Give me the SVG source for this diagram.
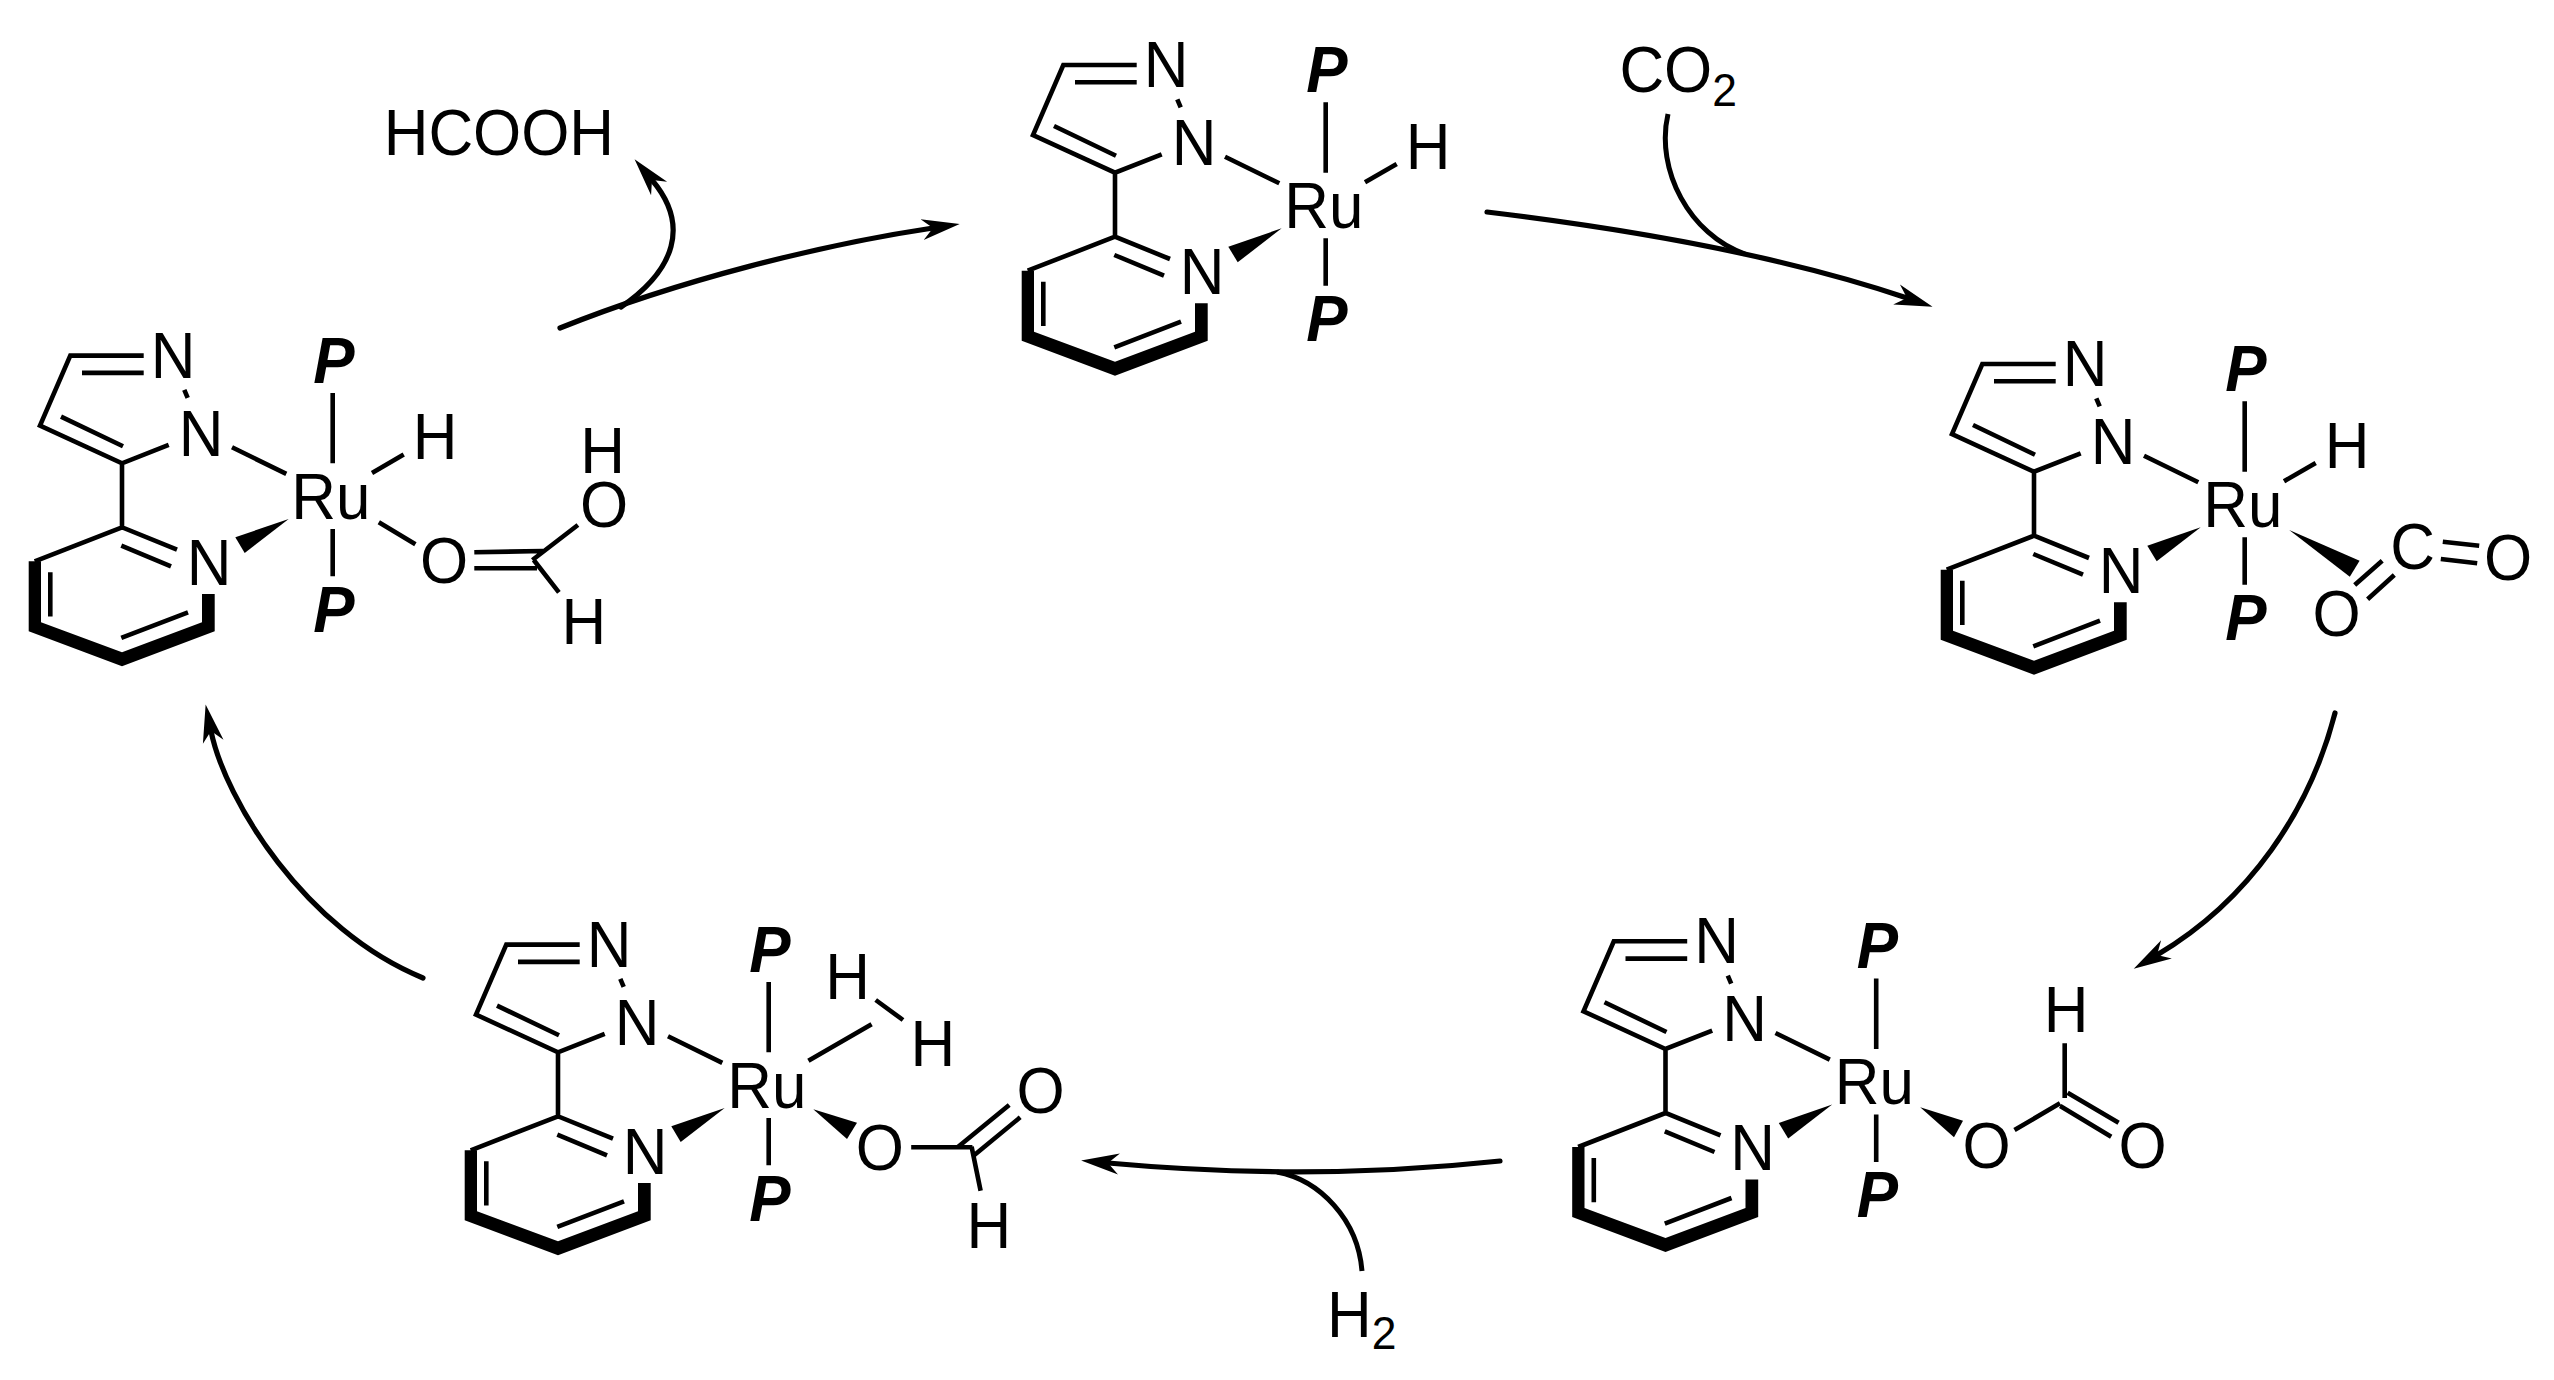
<svg xmlns="http://www.w3.org/2000/svg" width="2554" height="1380" viewBox="0 0 2554 1380">
<style>
text{font-family:"Liberation Sans",Arial,sans-serif;font-size:65.5px;fill:#000;transform-box:fill-box;transform-origin:center;transform:scaleX(.945)}
.m{text-anchor:middle}
.p{font-weight:bold;font-style:italic}
.sub{font-size:47px}
.b{fill:none;stroke:#000;stroke-width:4.6}
.f{fill:#000;stroke:none}
.a{fill:none;stroke:#000;stroke-width:5.2;stroke-linecap:round;marker-end:url(#head)}
.c{fill:none;stroke:#000;stroke-width:5;stroke-linecap:butt}
</style>
<defs>
<marker id="head" markerUnits="userSpaceOnUse" markerWidth="42" markerHeight="24" refX="11" refY="12" orient="auto">
<path d="M0,1.5L38,12L0,22.5L11,12Z" fill="#000"/>
</marker>
<g id="ligand">
<path class="b" d="M21.7,-107.7H-51.7L-82,-37.7L0,0L46.7,-18.4M-40,-90.4H21.7M-61,-46.7L1,-17M62.3,-73.4L65.7,-65.4M0,0V64L55,86.3M-0.7,82.3L49,103M0,64L-87.3,98M-71.7,109V153.3M-0.7,174.6L66,149M110,-16L164.3,10.6M210.7,-70.4V0M210.7,65.6V113"/>
<polygon class="f" points="-93.3,98 -81,98 -81,159 0,189 80,159 80,130.6 92.7,130.6 92.7,168 0,203 -93.3,168"/>
<polygon class="f" points="166.7,55.6 113.3,74 122.7,89.6"/>
</g>
</defs>

<g id="connectors">
<path class="a" d="M560,328C680,280 820,245 933,228"/>
<path class="a" d="M621,307C675,270 690,225 652,180"/>
<path class="a" d="M1487,212C1620,228 1780,255 1907,298"/>
<path class="c" d="M1668,114C1655,170 1690,235 1745,254"/>
<path class="a" d="M2335,713C2310,810 2250,900 2157,955"/>
<path class="a" d="M1500,1161C1380,1174 1250,1176 1108,1163"/>
<path class="c" d="M1362,1271C1358,1220 1320,1180 1277,1172"/>
<path class="a" d="M423,978C305,930 225,800 211,731"/>
</g>

<g id="label-hcooh"><text x="377" y="155">HCOOH</text></g>
<g id="label-co2"><text x="1616" y="91.7">CO<tspan class="sub" dy="14">2</tspan></text></g>
<g id="label-h2"><text x="1325" y="1336.7">H<tspan class="sub" dy="12.5">2</tspan></text></g>

<g id="complex-top"><g transform="translate(1115,172.7)">
<use href="#ligand"/>
<path class="b" d="M250,9.6L281.7,-8.7"/>
<text class="m" x="51" y="-85.7">N</text><text class="m" x="79" y="-7.7">N</text><text class="m" x="87" y="121.3">N</text>
<text x="167" y="55.3">Ru</text><text class="p" x="190" y="-80.7">P</text><text class="p" x="190" y="168.3">P</text><text class="m" x="313" y="-4">H</text>
</g></g>

<g id="complex-left"><g transform="translate(122,463.3)">
<use href="#ligand"/>
<path class="b" d="M250,9.6L281.7,-8.7"/>
<text class="m" x="51" y="-85.7">N</text><text class="m" x="79" y="-7.7">N</text><text class="m" x="87" y="121.3">N</text>
<text x="167" y="55.3">Ru</text><text class="p" x="190" y="-80.7">P</text><text class="p" x="190" y="168.3">P</text><text class="m" x="313" y="-4">H</text>
</g>
<path class="b" d="M378.8,522.3L415.4,544.3M474.3,552.3L543,551M474.3,568.3H537M532.4,560L577.9,525M533.7,560L558.9,592.3"/>
<text class="m" x="444" y="583">O</text><text class="m" x="604" y="526.7">O</text><text class="m" x="602.7" y="473.3">H</text><text class="m" x="583.8" y="644.3">H</text>
</g>

<g id="complex-right"><g transform="translate(2034,471.7)">
<use href="#ligand"/>
<path class="b" d="M250,9.6L281.7,-8.7"/>
<text class="m" x="51" y="-85.7">N</text><text class="m" x="79" y="-7.7">N</text><text class="m" x="87" y="121.3">N</text>
<text x="167" y="55.3">Ru</text><text class="p" x="190" y="-80.7">P</text><text class="p" x="190" y="168.3">P</text><text class="m" x="313" y="-4">H</text>
</g>
<polygon class="f" points="2289.2,530 2359.6,560.7 2349.8,576.7"/>
<path class="b" d="M2442.8,541.7L2479.2,545.7M2440.8,559L2477.2,563.3M2382.2,560.7L2354.7,585M2394.3,575L2367.6,599.3"/>
<text class="m" x="2412.5" y="569.3">C</text><text class="m" x="2508" y="580">O</text><text class="m" x="2336.5" y="636.3">O</text>
</g>

<g id="complex-bottom-right"><g transform="translate(1665.5,1049)">
<use href="#ligand"/>
<text class="m" x="51" y="-85.7">N</text><text class="m" x="79" y="-7.7">N</text><text class="m" x="87" y="121.3">N</text>
<text x="167" y="55.3">Ru</text><text class="p" x="190" y="-80.7">P</text><text class="p" x="190" y="168.3">P</text>
</g>
<polygon class="f" points="1920.2,1107.3 1963,1120.7 1954,1137.3"/>
<path class="b" d="M2014.5,1130L2060,1103.3M2064.7,1043.3V1098M2067.6,1092.7L2118.6,1122.7M2060.2,1106L2111.2,1136.7"/>
<text class="m" x="1986.7" y="1168.3">O</text><text class="m" x="2066" y="1032.3">H</text><text class="m" x="2142.7" y="1168.3">O</text>
</g>

<g id="complex-bottom-left"><g transform="translate(558,1052.3)">
<use href="#ligand"/>
<text class="m" x="51" y="-85.7">N</text><text class="m" x="79" y="-7.7">N</text><text class="m" x="87" y="121.3">N</text>
<text x="167" y="55.3">Ru</text><text class="p" x="190" y="-80.7">P</text><text class="p" x="190" y="168.3">P</text>
</g>
<polygon class="f" points="813.3,1109.3 857,1122.7 847,1139"/>
<path class="b" d="M808.4,1060.7L871.6,1024.3M875.7,1000L903,1020M911.2,1147.3H972.4M958.2,1146.7L1009.2,1105M973.2,1156L1020.2,1117.3M971.6,1146.7L980.6,1190.7"/>
<text class="m" x="879.8" y="1170">O</text><text class="m" x="1040.6" y="1113.3">O</text><text class="m" x="847.6" y="999.3">H</text><text class="m" x="932.9" y="1066">H</text><text class="m" x="988.8" y="1248.3">H</text>
</g>
</svg>
